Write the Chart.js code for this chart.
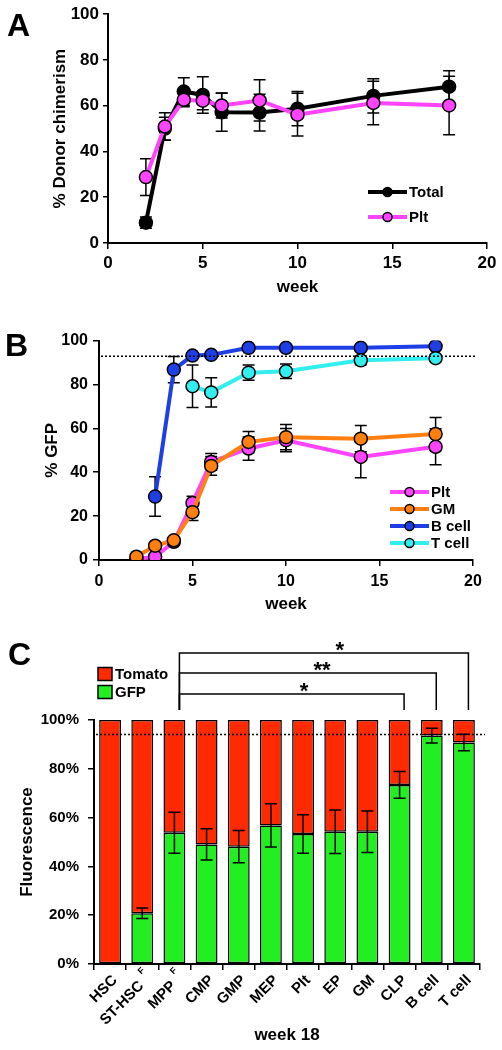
<!DOCTYPE html>
<html>
<head>
<meta charset="utf-8">
<script src="https://cdn.jsdelivr.net/npm/chart.js@4.4.1/dist/chart.umd.min.js"></script>
<style>
  body { margin: 0; background: #fff; font-family: "Liberation Sans", Arial, sans-serif; }
  #page { position: relative; width: 502px; height: 1050px; overflow: hidden; }
  canvas { position: absolute; left: 0; }
  .tag { position: absolute; font-weight: bold; font-size: 32px; line-height: 1; }
</style>
</head>
<body>
<div id="page">
  <canvas id="chartA" width="502" height="310" style="top:0px"></canvas>
  <canvas id="chartB" width="502" height="300" style="top:326px"></canvas>
  <canvas id="chartC" width="502" height="420" style="top:630px"></canvas>
  <div class="tag" style="left:7px;top:9px">A</div>
  <div class="tag" style="left:5px;top:329px">B</div>
  <div class="tag" style="left:8px;top:638px">C</div>
</div>
<script>
// ---- panel A: donor chimerism ----
const weeksA = [2, 3, 4, 5, 6, 8, 10, 14, 18];
const totalA = [8.9, 50, 66.2, 64.7, 57.1, 57, 58.7, 64.3, 68.3];
const totalErrA = [2.5, 5, 6, 8, 8.3, 8, 7.5, 7.5, 7];
const pltA = [28.8, 50.9, 62.6, 62.2, 60.1, 62.3, 56.1, 61.2, 60.1];
const pltErrA = [8, 6, 3, 4, 5.5, 9, 9.3, 9.5, 12.8];

// ---- panel B: % GFP ----
const weeksB = [2, 3, 4, 5, 6, 8, 10, 14, 18];
const pltB = [0.5, 1.5, 8.3, 26, 44.7, 50.8, 54.6, 47, 51.6];
const pltErrB = [0.5, 1, 1.5, 3, 3.8, 5.3, 5.3, 9.5, 8.2];
const gmB = [1.5, 6.5, 9, 21.8, 42.9, 53.8, 56, 55.3, 57.4];
const gmErrB = [1, 1.5, 1.5, 3.8, 4.3, 4.8, 5.8, 6, 7.5];
const bCellB = [null, 28.9, 86.8, 93.2, 93.5, 96.7, 96.7, 96.7, 97.4];
const bCellErrB = [null, 9, 6, 1, 1, 1, 1, 1, 1];
const tCellB = [null, null, null, 79.2, 76.4, 85.4, 86, 91, 92];
const tCellErrB = [null, null, null, 9.7, 6.7, 3.5, 3.3, 2, 1.5];
const refLineB = 92.9;

// ---- panel C: week 18 fluorescence ----
const cellTypes = ["HSC", "ST-HSC", "MPP", "CMP", "GMP", "MEP", "Plt", "EP", "GM", "CLP", "B cell", "T cell"];
const flagged = ["ST-HSC", "MPP"];
const gfpC = [0, 20.8, 53.8, 49, 48.1, 56.8, 53.3, 54.2, 54.2, 73.4, 93.6, 90.8];
const gfpErrC = [0, 2.2, 8.4, 6.4, 6.6, 8.9, 7.9, 8.9, 8.5, 5.5, 3, 3.4];
const tomatoC = gfpC.map((v) => 100 - v);
const refLineC = 94.1;
const sigFrom = "MPP";
const sigTo = ["CLP", "B cell", "T cell"];
const sigMarks = ["*", "**", "*"];

const FONT = '"Liberation Sans", Arial, sans-serif';
const toPoints = (xs, ys) => xs.map((x, i) => ({ x: x, y: ys[i] }));

// error bars, drawn from each dataset's errors array
const errorBars = {
  id: "errorBars",
  draw(chart) {
    const ctx = chart.ctx;
    const yScale = chart.scales.y;
    const cap = chart.options.plugins.errorBars.cap;
    ctx.save();
    ctx.strokeStyle = "#000";
    ctx.lineWidth = 1.5;
    chart.data.datasets.forEach((ds, di) => {
      if (!ds.errors) return;
      const meta = chart.getDatasetMeta(di);
      meta.data.forEach((el, i) => {
        const v = ds.values[i];
        const e = ds.errors[i];
        if (v == null || !e) return;
        const top = yScale.getPixelForValue(v + e);
        const bot = yScale.getPixelForValue(v - e);
        ctx.beginPath();
        ctx.moveTo(el.x, top); ctx.lineTo(el.x, bot);
        ctx.moveTo(el.x - cap, top); ctx.lineTo(el.x + cap, top);
        ctx.moveTo(el.x - cap, bot); ctx.lineTo(el.x + cap, bot);
        ctx.stroke();
      });
    });
    ctx.restore();
  },
};
const errorsBehind = { id: "errorsBehind", beforeDatasetsDraw: (c) => errorBars.draw(c) };
const errorsFront = { id: "errorsFront", afterDatasetsDraw: (c) => errorBars.draw(c) };

// dotted reference line
const refLine = {
  id: "refLine",
  afterDatasetsDraw(chart, args, opts) {
    if (opts.value == null) return;
    const { ctx, chartArea } = chart;
    const y = chart.scales.y.getPixelForValue(opts.value);
    ctx.save();
    ctx.strokeStyle = "#000";
    ctx.lineWidth = 1.5;
    ctx.setLineDash([2, 2]);
    ctx.beginPath();
    ctx.moveTo(chartArea.left + 2, y);
    ctx.lineTo(chartArea.right + opts.extend, y);
    ctx.stroke();
    ctx.restore();
  },
};

// legend drawn inside the panel
const panelLegend = {
  id: "panelLegend",
  afterDraw(chart, args, opts) {
    if (!opts.x) return;
    const ctx = chart.ctx;
    ctx.save();
    ctx.font = "bold 15px " + FONT;
    ctx.textBaseline = "middle";
    opts.labels.forEach((label, i) => {
      const ds = chart.data.datasets.find((d) => d.label === label);
      const y = opts.y + i * opts.gap;
      if (opts.kind === "line") {
        ctx.strokeStyle = ds.borderColor;
        ctx.lineWidth = 4;
        ctx.beginPath();
        ctx.moveTo(opts.x, y); ctx.lineTo(opts.x + 39, y);
        ctx.stroke();
        ctx.beginPath();
        ctx.arc(opts.x + 19.5, y, 4.5, 0, Math.PI * 2);
        ctx.fillStyle = ds.pointBackgroundColor;
        ctx.fill();
        ctx.lineWidth = 1.5;
        ctx.strokeStyle = "#000";
        ctx.stroke();
        ctx.fillStyle = "#000";
        ctx.fillText(label, opts.x + 41, y + 1);
      } else {
        ctx.fillStyle = ds.backgroundColor;
        ctx.fillRect(opts.x, y - 6.5, 14, 13);
        ctx.lineWidth = 1.5;
        ctx.strokeStyle = "#000";
        ctx.strokeRect(opts.x, y - 6.5, 14, 13);
        ctx.fillStyle = "#000";
        ctx.fillText(label, opts.x + 17, y + 1);
      }
    });
    ctx.restore();
  },
};

// rotated category labels with the small F mark, and significance brackets
const panelCExtras = {
  id: "panelCExtras",
  afterDraw(chart) {
    const { ctx, chartArea } = chart;
    const xs = chart.scales.x;
    ctx.save();
    ctx.fillStyle = "#000";
    cellTypes.forEach((name, i) => {
      const x = xs.getPixelForValue(i);
      ctx.save();
      ctx.translate(x + 5, chartArea.bottom + 14);
      ctx.rotate(-Math.PI / 4);
      ctx.textAlign = "right";
      ctx.textBaseline = "middle";
      ctx.font = "bold 15px " + FONT;
      if (flagged.includes(name)) {
        ctx.fillText(name, -8, 0);
        ctx.font = "bold 9px " + FONT;
        ctx.textAlign = "left";
        ctx.fillText("F", -2, -9);
      } else {
        ctx.fillText(name, 0, 0);
      }
      ctx.restore();
    });

    ctx.strokeStyle = "#000";
    ctx.lineWidth = 1.5;
    const x0 = xs.getPixelForValue(cellTypes.indexOf(sigFrom)) + 5;
    const drop = chartArea.top - 10;
    const levels = [26, 47, 67];
    ctx.font = "bold 22px " + FONT;
    ctx.textAlign = "center";
    ctx.textBaseline = "alphabetic";
    sigTo.forEach((to, k) => {
      const x1 = xs.getPixelForValue(cellTypes.indexOf(to)) + 4.5;
      const y = chartArea.top - levels[k];
      ctx.beginPath();
      ctx.moveTo(x0, drop); ctx.lineTo(x0, y); ctx.lineTo(x1, y); ctx.lineTo(x1, drop);
      ctx.stroke();
      ctx.fillText(sigMarks[k], x0 + (x1 - x0) * 0.555, y + 4);
    });
    ctx.restore();
  },
};

const axisY = (width, max, tickFont, tickPad, tickLen, title, titleFont, titlePad, fmt) => ({
  min: 0,
  max: max,
  afterFit: (s) => { s.width = width; },
  ticks: { stepSize: 20, padding: tickPad, color: "#000", font: { family: FONT, weight: "bold", size: tickFont }, callback: fmt },
  grid: { drawOnChartArea: false, tickLength: tickLen, color: "#000", lineWidth: 1.5 },
  border: { color: "#000", width: 2 },
  title: { display: true, text: title, color: "#000", font: { family: FONT, weight: "bold", size: titleFont }, padding: { top: titlePad, bottom: 0 } },
});

const axisXLinear = (height, tickFont, tickPad, titlePad) => ({
  type: "linear",
  min: 0,
  max: 20,
  afterFit: (s) => { s.height = height; },
  ticks: { stepSize: 5, padding: tickPad, color: "#000", font: { family: FONT, weight: "bold", size: tickFont } },
  grid: { drawOnChartArea: false, tickLength: 6, color: "#000", lineWidth: 1.5 },
  border: { color: "#000", width: 2 },
  title: { display: true, text: "week", color: "#000", font: { family: FONT, weight: "bold", size: 17 }, padding: { top: 0, bottom: titlePad } },
});

const lineSet = (label, xs, ys, errs, color, order) => ({
  label: label,
  data: toPoints(xs, ys),
  values: ys,
  errors: errs,
  borderColor: color,
  backgroundColor: color,
  pointBackgroundColor: color,
  pointBorderColor: "#000",
  pointBorderWidth: 1.5,
  pointRadius: 6.5,
  borderWidth: 4,
  tension: 0,
  order: order,
});

const baseOpts = {
  responsive: false,
  animation: false,
  events: [],
};

new Chart(document.getElementById("chartA"), {
  type: "line",
  data: {
    datasets: [
      lineSet("Plt", weeksA, pltA, pltErrA, "#ff44ff", 0),
      lineSet("Total", weeksA, totalA, totalErrA, "#000000", 1),
    ],
  },
  options: {
    ...baseOpts,
    layout: { padding: { top: 12, right: 15, left: 0, bottom: 0 } },
    scales: {
      x: axisXLinear(67, 17, 4, 12),
      y: axisY(108, 100, 17, 4, 5, "% Donor chimerism", 17, 50),
    },
    plugins: {
      legend: { display: false },
      tooltip: { enabled: false },
      errorBars: { cap: 6 },
      panelLegend: { kind: "line", labels: ["Total", "Plt"], x: 368, y: 192, gap: 25 },
    },
  },
  plugins: [errorsBehind, panelLegend],
});

new Chart(document.getElementById("chartB"), {
  type: "line",
  data: {
    datasets: [
      lineSet("Plt", weeksB, pltB, pltErrB, "#ff44ff", 3),
      lineSet("GM", weeksB, gmB, gmErrB, "#ff8010", 2),
      lineSet("B cell", weeksB, bCellB, bCellErrB, "#1f3fe6", 1),
      lineSet("T cell", weeksB, tCellB, tCellErrB, "#33eeee", 0),
    ],
  },
  options: {
    ...baseOpts,
    layout: { padding: { top: 12, right: 29, left: 0, bottom: 0 } },
    scales: {
      x: axisXLinear(66, 16, 6, 11),
      y: axisY(99, 100, 16, 5, 6, "% GFP", 17, 42),
    },
    plugins: {
      legend: { display: false },
      tooltip: { enabled: false },
      errorBars: { cap: 6 },
      refLine: { value: refLineB, extend: 4 },
      panelLegend: { kind: "line", labels: ["Plt", "GM", "B cell", "T cell"], x: 390, y: 166, gap: 17 },
    },
  },
  plugins: [errorsBehind, refLine, panelLegend],
});

new Chart(document.getElementById("chartC"), {
  type: "bar",
  data: {
    labels: cellTypes,
    datasets: [
      {
        label: "GFP",
        data: gfpC,
        values: gfpC,
        errors: gfpErrC,
        backgroundColor: "#22ee22",
        borderColor: "#000",
        borderWidth: 1.5,
        borderSkipped: false,
        barPercentage: 0.68,
        categoryPercentage: 1,
      },
      {
        label: "Tomato",
        data: tomatoC,
        backgroundColor: "#ff2a00",
        borderColor: "#000",
        borderWidth: 1.5,
        borderSkipped: false,
        barPercentage: 0.68,
        categoryPercentage: 1,
      },
    ],
  },
  options: {
    ...baseOpts,
    layout: { padding: { top: 90, right: 22, left: 0, bottom: 0 } },
    scales: {
      x: {
        stacked: true,
        afterFit: (s) => { s.height = 86; },
        ticks: { display: false },
        grid: { drawOnChartArea: false, offset: true, tickLength: 6, color: "#000", lineWidth: 1.5 },
        border: { color: "#000", width: 2 },
        title: { display: true, text: "week 18", color: "#000", font: { family: FONT, weight: "bold", size: 17 }, padding: { top: 0, bottom: 4 } },
      },
      y: { stacked: true, ...axisY(94, 100, 15, 9, 6, "Fluorescence", 17, 17, (v) => v + "%") },
    },
    plugins: {
      legend: { display: false },
      tooltip: { enabled: false },
      errorBars: { cap: 6 },
      refLine: { value: refLineC, extend: 5 },
      panelLegend: { kind: "box", labels: ["Tomato", "GFP"], x: 98, y: 44, gap: 18 },
    },
  },
  plugins: [errorsFront, refLine, panelLegend, panelCExtras],
});
</script>
</body>
</html>
